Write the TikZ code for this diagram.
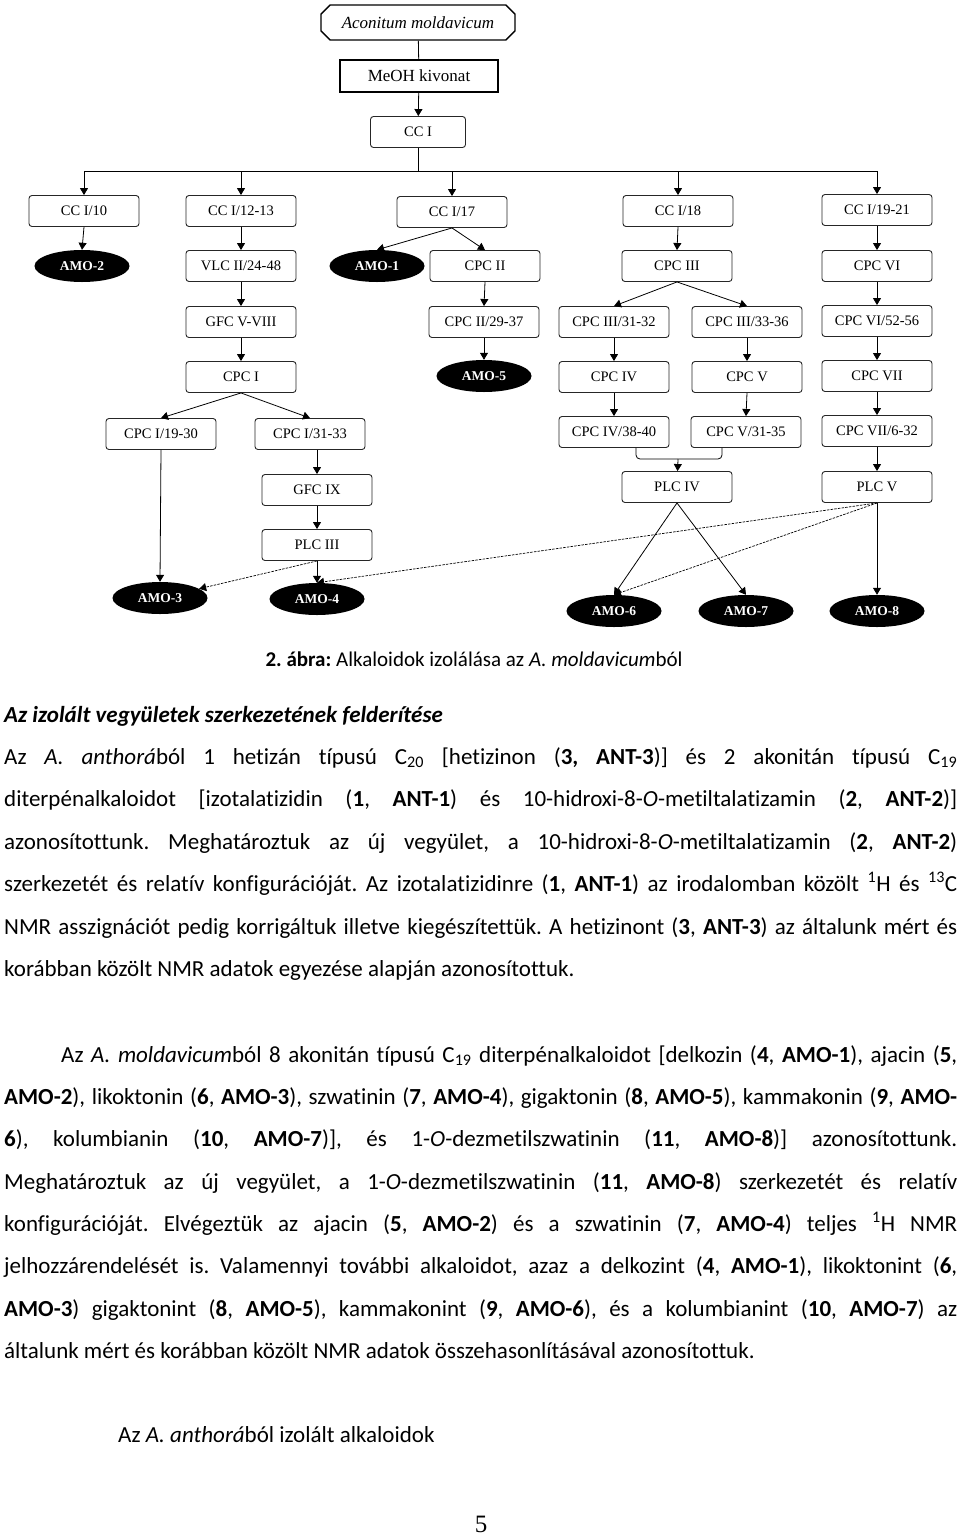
\documentclass[tikz,border=0pt]{standalone}
\usepackage{fontspec}
\setmainfont{Carlito}[Ligatures=NoCommon]
\newfontfamily\timesfont{Liberation Serif}
\usetikzlibrary{shapes.misc,shapes.geometric,arrows.meta}
\tikzset{box/.style={draw=black!85, line width=0.9pt, rounded corners=3pt, minimum width=110pt, minimum height=31pt, inner sep=0pt, font=\timesfont\fontsize{14.5}{16}\selectfont},
amo/.style={ellipse, fill=black, text=white, minimum width=95pt, minimum height=32pt, inner sep=0pt, font=\timesfont\bfseries\fontsize{13.5}{16}\selectfont},
arr/.style={-{Triangle[width=8pt,length=7pt]}, line width=0.8pt},
darr/.style={arr, dash pattern=on 2.5pt off 1.2pt, line width=0.7pt},
txt/.style={inner sep=0pt, anchor=base west, font=\fontsize{23}{28}\selectfont}}
\newcommand{\jline}[1]{\makebox[953pt][s]{#1}}
\frenchspacing

\begin{document}
\begin{tikzpicture}[x=1pt,y=-1pt]
    \useasboundingbox (0,0) rectangle (960,1537);

    \node[chamfered rectangle, chamfered rectangle xsep=8pt, draw, line width=1.4pt, minimum width=194pt, minimum height=35pt, inner sep=0pt, font=\timesfont\itshape\fontsize{17}{20}\selectfont] (acon) at (418,22.5) {Aconitum moldavicum};
    \node[draw, line width=1.4pt, minimum width=158pt, minimum height=32pt, inner sep=0pt, font=\timesfont\fontsize{17}{20}\selectfont] (meoh) at (419,76) {MeOH kivonat};
    \node[box, minimum width=95pt] (cc1) at (418,132) {CC I};

    \node[box] (cc10) at (84,211) {CC I/10};
    \node[box] (cc12) at (241,211) {CC I/12-13};
    \node[box] (cc17) at (452,212) {CC I/17};
    \node[box] (cc18) at (678,211) {CC I/18};
    \node[box] (cc19) at (877,210) {CC I/19-21};

    \node[amo] (amo2) at (82,266) {AMO-2};
    \node[box] (vlc) at (241,266) {VLC II/24-48};
    \node[amo] (amo1) at (377,266) {AMO-1};
    \node[box] (cpc2) at (485,266) {CPC II};
    \node[box] (cpc3) at (677,266) {CPC III};
    \node[box] (cpc6) at (877,266) {CPC VI};

    \node[box] (gfc) at (241,322) {GFC V-VIII};
    \node[box] (cpc2a) at (484,322) {CPC II/29-37};
    \node[box] (cpc3a) at (614,322) {CPC III/31-32};
    \node[box] (cpc3b) at (747,322) {CPC III/33-36};
    \node[box] (cpc6a) at (877,321) {CPC VI/52-56};

    \node[box] (cpc1) at (241,377) {CPC I};
    \node[amo] (amo5) at (484,376) {AMO-5};
    \node[box] (cpc4) at (614,377) {CPC IV};
    \node[box] (cpc5) at (747,377) {CPC V};
    \node[box] (cpc7) at (877,376) {CPC VII};

    \node[box] (cpc1a) at (161,434) {CPC I/19-30};
    \node[box] (cpc1b) at (310,434) {CPC I/31-33};
    \node[box] (cpc4a) at (614,432) {CPC IV/38-40};
    \node[box] (cpc5a) at (746,432) {CPC V/31-35};
    \node[box] (cpc7a) at (877,431) {CPC VII/6-32};

    \node[box] (gfc9) at (317,490) {GFC IX};
    \node[box] (plc4) at (677,487) {PLC IV};
    \node[box] (plc5) at (877,487) {PLC V};
    \node[box] (plc3) at (317,545) {PLC III};

    \node[amo] (amo3) at (160,598) {AMO-3};
    \node[amo] (amo4) at (317,599) {AMO-4};
    \node[amo] (amo6) at (614,611) {AMO-6};
    \node[amo] (amo7) at (746,611) {AMO-7};
    \node[amo] (amo8) at (877,611) {AMO-8};

    % connectors
    \draw[line width=0.8pt] (acon) -- (meoh);
    \draw[arr] (meoh) -- (cc1);
    \coordinate (bus) at (418,171);
    \draw[line width=0.8pt] (cc1) -- (bus);
    \foreach \n in {cc10,cc12,cc17,cc18,cc19}
    \draw[arr] (bus) -| (\n);

    \foreach \a/\b in {cc10/amo2,cc12/vlc,vlc/gfc,gfc/cpc1,cc17/amo1,cc17/cpc2,cpc2/cpc2a,cpc2a/amo5,
      cc18/cpc3,cpc3/cpc3a,cpc3/cpc3b,cpc3a/cpc4,cpc3b/cpc5,cpc4/cpc4a,cpc5/cpc5a,
      cc19/cpc6,cpc6/cpc6a,cpc6a/cpc7,cpc7/cpc7a,cpc7a/plc5,cpc1/cpc1a,cpc1/cpc1b,
      cpc1a/amo3,gfc9/plc3,plc3/amo4,plc4/amo6,plc4/amo7,plc5/amo8}
    \draw[arr] (\a.south) -- (\b.north);
    \draw[arr] (gfc9.north |- cpc1b.south) -- (gfc9.north);

    \coordinate (join) at (678,459);
    \draw[line width=0.8pt, rounded corners=4pt] ([xshift=22pt]cpc4a.south) |- (join) -| ([xshift=-24pt]cpc5a.south);
    \draw[arr] (join) -- (plc4);

    \draw[darr] (plc3.south) -- (amo3);
    \draw[darr] (plc5.south) -- (amo4.north);
    \draw[darr] (plc5.south) -- (amo6.north);

    % text
    \node[inner sep=0pt, anchor=base, font=\fontsize{21}{25}\selectfont] (cap) at (474,666) {\textbf{2. ábra:} Alkaloidok izolálása az \textit{A. moldavicum}ból};
    \node[txt, font=\bfseries\itshape\fontsize{23}{28}\selectfont] (head) at (4,722) {Az izolált vegyületek szerkezetének felderítése};

    \node[txt] (p1a) at (4,764) {\jline{Az \textit{A. anthorá}ból 1 hetizán típusú C\textsubscript{20} [hetizinon (\textbf{3, ANT-3})] és 2 akonitán típusú C\textsubscript{19}}};
    \node[txt] (p1b) at (4,806.5) {\jline{diterpénalkaloidot [izotalatizidin (\textbf{1}, \textbf{ANT-1}) és 10-hidroxi-8-\textit{O}-metiltalatizamin (\textbf{2}, \textbf{ANT-2})]}};
    \node[txt] (p1c) at (4,849) {\jline{azonosítottunk. Meghatároztuk az új vegyület, a 10-hidroxi-8-\textit{O}-metiltalatizamin (\textbf{2}, \textbf{ANT-2})}};
    \node[txt] (p1d) at (4,891.5) {\jline{szerkezetét és relatív konfigurációját. Az izotalatizidinre (\textbf{1}, \textbf{ANT-1}) az irodalomban közölt \textsuperscript{1}H és \textsuperscript{13}C}};
    \node[txt] (p1e) at (4,934) {\jline{NMR asszignációt pedig korrigáltuk illetve kiegészítettük. A hetizinont (\textbf{3}, \textbf{ANT-3}) az általunk mért és}};
    \node[txt] (p1f) at (4,976.5) {korábban közölt NMR adatok egyezése alapján azonosítottuk.};

    \node[txt] (p2a) at (4,1062) {\jline{\hspace*{57pt}Az \textit{A. moldavicum}ból 8 akonitán típusú C\textsubscript{19} diterpénalkaloidot [delkozin (\textbf{4}, \textbf{AMO-1}), ajacin (\textbf{5},}};
    \node[txt] (p2b) at (4,1104.3) {\jline{\textbf{AMO-2}), likoktonin (\textbf{6}, \textbf{AMO-3}), szwatinin (\textbf{7}, \textbf{AMO-4}), gigaktonin (\textbf{8}, \textbf{AMO-5}), kammakonin (\textbf{9}, \textbf{AMO-}}};
    \node[txt] (p2c) at (4,1146.6) {\jline{\textbf{6}), kolumbianin (\textbf{10}, \textbf{AMO-7})], és 1-\textit{O}-dezmetilszwatinin (\textbf{11}, \textbf{AMO-8})] azonosítottunk.}};
    \node[txt] (p2d) at (4,1189) {\jline{Meghatároztuk az új vegyület, a 1-\textit{O}-dezmetilszwatinin (\textbf{11}, \textbf{AMO-8}) szerkezetét és relatív}};
    \node[txt] (p2e) at (4,1231.3) {\jline{konfigurációját. Elvégeztük az ajacin (\textbf{5}, \textbf{AMO-2}) és a szwatinin (\textbf{7}, \textbf{AMO-4}) teljes \textsuperscript{1}H NMR}};
    \node[txt] (p2f) at (4,1273.6) {\jline{jelhozzárendelését is. Valamennyi további alkaloidot, azaz a delkozint (\textbf{4}, \textbf{AMO-1}), likoktonint (\textbf{6},}};
    \node[txt] (p2g) at (4,1316) {\jline{\textbf{AMO-3}) gigaktonint (\textbf{8}, \textbf{AMO-5}), kammakonint (\textbf{9}, \textbf{AMO-6}), és a kolumbianint (\textbf{10}, \textbf{AMO-7}) az}};
    \node[txt] (p2h) at (4,1358) {általunk mért és korábban közölt NMR adatok összehasonlításával azonosítottuk.};

    \node[txt] (sub) at (118,1442) {Az \textit{A. anthorá}ból izolált alkaloidok};
    \node[inner sep=0pt, anchor=base, font=\timesfont\fontsize{25}{28}\selectfont] (pnum) at (481,1532) {5};

  \end{tikzpicture}
\end{document}
